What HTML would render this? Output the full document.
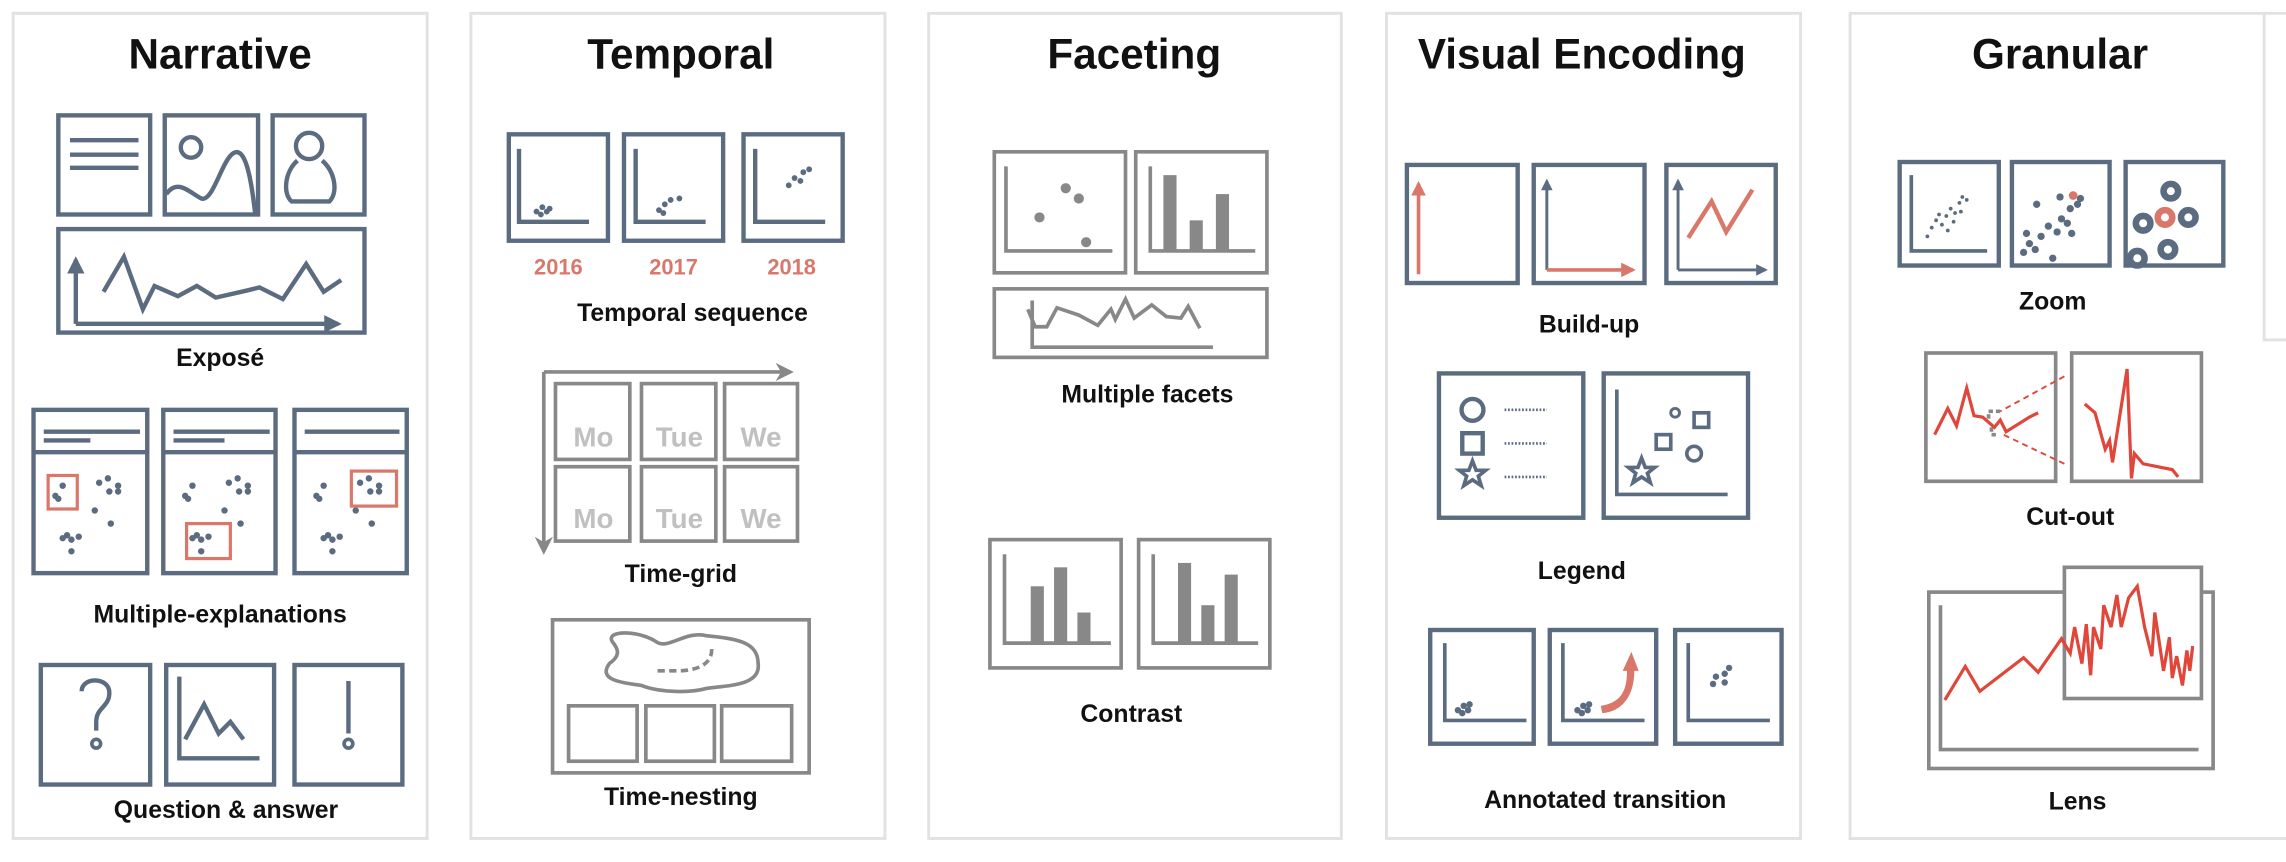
<!DOCTYPE html>
<html><head><meta charset="utf-8"><style>
html,body{margin:0;padding:0;background:#fff;}
svg{display:block;}
text{font-family:"Liberation Sans",Arial,sans-serif;font-weight:bold;fill:#111;}
</style></head><body>
<svg width="2286" height="862" viewBox="0 0 1568 591" xmlns="http://www.w3.org/2000/svg">
<defs>
<marker id="as" viewBox="0 0 10 10" refX="8" refY="5" markerWidth="4" markerHeight="4" orient="auto"><path d="M0,0 L10,5 L0,10 z" fill="#5b6b80"/></marker>
<marker id="ao" viewBox="0 0 10 10" refX="8" refY="5" markerWidth="4" markerHeight="4" orient="auto"><path d="M0,0 L10,5 L0,10 z" fill="#d9786a"/></marker>
<marker id="ag" viewBox="0 0 10 10" refX="8" refY="5" markerWidth="5" markerHeight="5" orient="auto"><path d="M0,0 L10,5 L0,10 L3,5 z" fill="#888"/></marker>
<g id="dots" fill="#5b6b80">
<circle cx="43" cy="333" r="2.2"/><circle cx="38" cy="340" r="2.2"/><circle cx="40" cy="342" r="2.2"/>
<circle cx="68" cy="331" r="2.2"/><circle cx="74" cy="328" r="2.2"/><circle cx="81" cy="333" r="2.2"/><circle cx="75" cy="337" r="2.2"/><circle cx="81" cy="337" r="2.2"/>
<circle cx="65" cy="350" r="2.2"/><circle cx="76" cy="359" r="2.2"/>
<circle cx="43" cy="369" r="2.2"/><circle cx="46" cy="367" r="2.2"/><circle cx="49" cy="370" r="2.2"/><circle cx="54" cy="368" r="2.2"/><circle cx="49" cy="378" r="2.2"/>
</g>
</defs>
<!-- panels -->
<g fill="none" stroke="#e2e2e2" stroke-width="2">
<rect x="9" y="9" width="284" height="566"/>
<rect x="323" y="9" width="284" height="566"/>
<rect x="637" y="9" width="283" height="566"/>
<rect x="951" y="9" width="284" height="566"/>
<path d="M1570,9 H1269 V575 H1570"/>
<path d="M1553,9 V233 H1570"/>
</g>
<g font-size="29" text-anchor="middle">
<text x="151" y="47">Narrative</text>
<text x="467" y="47">Temporal</text>
<text x="778" y="47">Faceting</text>
<text x="1085" y="47">Visual Encoding</text>
<text x="1413" y="47">Granular</text>
</g>
<g font-size="17" text-anchor="middle">
<text x="151" y="251">Exposé</text>
<text x="151" y="427">Multiple-explanations</text>
<text x="155" y="561">Question &amp; answer</text>
<text x="475" y="220">Temporal sequence</text>
<text x="467" y="399">Time-grid</text>
<text x="467" y="552">Time-nesting</text>
<text x="787" y="276">Multiple facets</text>
<text x="776" y="495">Contrast</text>
<text x="1090" y="228">Build-up</text>
<text x="1085" y="397">Legend</text>
<text x="1101" y="554">Annotated transition</text>
<text x="1408" y="212">Zoom</text>
<text x="1420" y="360">Cut-out</text>
<text x="1425" y="555">Lens</text>
</g>

<!-- NARRATIVE -->
<g fill="none" stroke="#5b6b80" stroke-width="3">
<rect x="40" y="79" width="63" height="68"/>
<rect x="113" y="79" width="64" height="68"/>
<rect x="187" y="79" width="63" height="68"/>
<path d="M48,96H95M48,106H95M48,115H95"/>
<circle cx="131" cy="101" r="7"/>
<path d="M114,133 C122,122 130,132 138,136 C146,139 152,110 160,105 C168,100 172,120 175,146"/>
<circle cx="212" cy="100" r="9"/>
<path d="M204,110 C195,118 194,133 200,138 H226 C232,132 230,118 221,110"/>
<rect x="40" y="157" width="210" height="71"/>
<path d="M52,222V178" marker-end="url(#as)"/>
<path d="M52,222H232" marker-end="url(#as)"/>
<path d="M71,200 L85,176 L98,212 L106,196 L122,203 L135,196 L148,204 L170,199 L178,197 L194,205 L210,181 L222,200 L234,192"/>
<rect x="23" y="281" width="78" height="112"/>
<rect x="112" y="281" width="77" height="112"/>
<rect x="202" y="281" width="77" height="112"/>
<path d="M23,310H101M112,310H189M202,310H279"/>
<path d="M30,296H96M30,302H62M119,296H185M119,302H154M209,296H274"/>
<rect x="28" y="456" width="75" height="82"/>
<rect x="114" y="456" width="74" height="82"/>
<rect x="202" y="456" width="74" height="82"/>
<path d="M123,464V520H178"/>
<path d="M127,507 L140,483 L150,503 L158,495 L167,507"/>
<path d="M56,474 C56,464 75,464 75,475 C75,485 66,485 66,495 V501"/>
<circle cx="66" cy="510" r="3" stroke-width="2.5"/>
<path d="M239,467V503"/>
<circle cx="239" cy="510" r="3" stroke-width="2.5"/>
</g>
<use href="#dots"/>
<use href="#dots" transform="translate(89,0)"/>
<use href="#dots" transform="translate(179,0)"/>
<g fill="none" stroke="#d9786a" stroke-width="2.2">
<rect x="33" y="326" width="20" height="23"/>
<rect x="128" y="359" width="30" height="24"/>
<rect x="241" y="323" width="31" height="24"/>
</g>

<!-- TEMPORAL -->
<g fill="none" stroke="#5b6b80" stroke-width="3">
<rect x="349" y="92" width="68" height="73"/>
<rect x="428" y="92" width="68" height="73"/>
<rect x="510" y="92" width="68" height="73"/>
<path d="M356,102V152H404M436,102V152H484M518,102V152H566"/>
</g>
<g fill="#5b6b80">
<circle cx="368" cy="145" r="2"/><circle cx="372" cy="142" r="2"/><circle cx="375" cy="145" r="2"/><circle cx="371" cy="147" r="2"/><circle cx="377" cy="143" r="2"/>
<circle cx="452" cy="144" r="2"/><circle cx="456" cy="140" r="2"/><circle cx="460" cy="137" r="2"/><circle cx="466" cy="136" r="2"/><circle cx="455" cy="146" r="2"/>
<circle cx="541" cy="127" r="2"/><circle cx="545" cy="122" r="2"/><circle cx="549" cy="124" r="2"/><circle cx="551" cy="118" r="2"/><circle cx="555" cy="116" r="2"/>
</g>
<g font-size="15" text-anchor="middle">
<text x="383" y="188" style="fill:#d9786a">2016</text>
<text x="462" y="188" style="fill:#d9786a">2017</text>
<text x="543" y="188" style="fill:#d9786a">2018</text>
</g>
<g fill="none" stroke="#888" stroke-width="2.5">
<path d="M373,255H542" marker-end="url(#ag)"/>
<path d="M373,255V378" marker-end="url(#ag)"/>
<rect x="381" y="263" width="51" height="52"/><rect x="440" y="263" width="51" height="52"/><rect x="497" y="263" width="50" height="52"/>
<rect x="381" y="320" width="51" height="51"/><rect x="440" y="320" width="51" height="51"/><rect x="497" y="320" width="50" height="51"/>
<rect x="379" y="425" width="176" height="105"/>
<rect x="390" y="484" width="47" height="38"/><rect x="443" y="484" width="47" height="38"/><rect x="495" y="484" width="48" height="38"/>
<path d="M420,440 C415,432 438,432 450,440 C458,446 470,432 485,436 C505,438 520,440 520,455 C522,470 500,470 485,472 C470,476 450,474 440,470 C425,468 410,466 418,455 C425,450 425,446 420,440 z"/>
<path d="M451,460 H465 C475,460 490,457 488,443" stroke-dasharray="5,3"/>
</g>
<g font-size="19" text-anchor="middle">
<text x="407" y="306" style="fill:#c0c0c0">Mo</text><text x="466" y="306" style="fill:#c0c0c0">Tue</text><text x="522" y="306" style="fill:#c0c0c0">We</text>
<text x="407" y="362" style="fill:#c0c0c0">Mo</text><text x="466" y="362" style="fill:#c0c0c0">Tue</text><text x="522" y="362" style="fill:#c0c0c0">We</text>
</g>

<!-- FACETING -->
<g fill="none" stroke="#888" stroke-width="2.5">
<rect x="682" y="104" width="90" height="83"/><rect x="779" y="104" width="90" height="83"/>
<rect x="682" y="198" width="187" height="47"/>
<path d="M690,114V172H763M789,114V172H861M708,206V238H832"/>
<path d="M705,212 L710,224 L718,224 L725,211 L740,216 L753,223 L762,212 L765,219 L772,205 L778,218 L790,209 L800,217 L810,218 L815,210 L823,225"/>
<rect x="679" y="370" width="90" height="88"/><rect x="781" y="370" width="90" height="88"/>
<path d="M689,380V441H762M791,380V441H863"/>
</g>
<g fill="#888">
<circle cx="713" cy="149" r="3.5"/><circle cx="731" cy="129" r="3.5"/><circle cx="740" cy="136" r="3.5"/><circle cx="745" cy="166" r="3.5"/>
<rect x="798" y="120" width="9" height="51"/><rect x="816" y="151" width="9" height="20"/><rect x="834" y="133" width="9" height="38"/>
<rect x="707" y="402" width="9" height="39"/><rect x="723" y="389" width="9" height="52"/><rect x="739" y="420" width="9" height="21"/>
<rect x="808" y="386" width="9" height="55"/><rect x="824" y="415" width="9" height="26"/><rect x="840" y="394" width="9" height="47"/>
</g>

<!-- VISUAL ENCODING -->
<g fill="none" stroke="#5b6b80" stroke-width="3">
<rect x="965" y="113" width="76" height="81"/><rect x="1052" y="113" width="76" height="81"/><rect x="1143" y="113" width="75" height="81"/>
<path d="M1061,185V124" stroke-width="2" marker-end="url(#as)"/>
<path d="M1151,185V124" stroke-width="2" marker-end="url(#as)"/>
<path d="M1151,185H1211" stroke-width="2" marker-end="url(#as)"/>
<rect x="987" y="256" width="99" height="99"/><rect x="1100" y="256" width="99" height="99"/>
<circle cx="1010" cy="281" r="7.5"/><rect x="1003" y="297" width="14" height="14"/>
<path d="M1010,316 L1012.5,322.5 L1019,322.5 L1014,326.5 L1016,333 L1010,329 L1004,333 L1006,326.5 L1001,322.5 L1007.5,322.5 z" stroke-width="2.5"/>
<path d="M1109,267V339H1185" stroke-width="2.5"/>
<circle cx="1149" cy="283" r="3" stroke-width="2"/><rect x="1162" y="283" width="10" height="10" stroke-width="2.5"/>
<rect x="1136" y="298" width="10" height="10" stroke-width="2.5"/><circle cx="1162" cy="311" r="5" stroke-width="2.5"/>
<path d="M1126,314 L1128.5,320.5 L1135,320.5 L1130,324.5 L1132,331 L1126,327 L1120,331 L1122,324.5 L1117,320.5 L1123.5,320.5 z" stroke-width="2.5"/>
<rect x="981" y="432" width="71" height="78"/><rect x="1063" y="432" width="73" height="78"/><rect x="1149" y="432" width="73" height="78"/>
<path d="M991,441V494H1047M1072,441V494H1128M1158,441V494H1214" stroke-width="2.5"/>
</g>
<g stroke="#5b6b80" stroke-width="1.8" stroke-dasharray="1.2,1.2">
<path d="M1032,281H1061M1032,304H1061M1032,327H1061"/>
</g>
<g fill="none" stroke="#d9786a" stroke-width="2.5">
<path d="M973,188V126" marker-end="url(#ao)"/>
<path d="M1061,185H1120" marker-end="url(#ao)"/>
<path d="M1158,163 L1174,138 L1184,159 L1202,130" stroke-width="3"/>
</g>
<path d="M1098,484 C1110,482 1116,476 1116,460 L1113,460 L1119,447 L1124,460 L1121,460 C1121,478 1112,488 1099,489 z" fill="#d9786a"/>
<g fill="#5b6b80">
<circle cx="1000" cy="487" r="2.2"/><circle cx="1004" cy="484" r="2.2"/><circle cx="1007" cy="487" r="2.2"/><circle cx="1003" cy="489" r="2.2"/><circle cx="1008" cy="483" r="2.2"/>
<circle cx="1082" cy="487" r="2.2"/><circle cx="1086" cy="484" r="2.2"/><circle cx="1089" cy="487" r="2.2"/><circle cx="1085" cy="489" r="2.2"/><circle cx="1090" cy="483" r="2.2"/>
<circle cx="1175" cy="469" r="2.2"/><circle cx="1177" cy="464" r="2.2"/><circle cx="1183" cy="462" r="2.2"/><circle cx="1186" cy="458" r="2.2"/><circle cx="1183" cy="468" r="2.2"/>
</g>

<!-- GRANULAR -->
<g fill="none" stroke="#5b6b80" stroke-width="3">
<rect x="1303" y="111" width="68" height="71"/><rect x="1380" y="111" width="67" height="71"/><rect x="1458" y="111" width="67" height="71"/>
<path d="M1311,120V172H1363" stroke-width="2.5"/>
</g>
<g fill="#5b6b80">
<circle cx="1322" cy="162" r="1.3"/><circle cx="1325" cy="156" r="1.3"/><circle cx="1328" cy="151" r="1.3"/><circle cx="1332" cy="154" r="1.3"/><circle cx="1335" cy="148" r="1.3"/><circle cx="1338" cy="143" r="1.3"/><circle cx="1341" cy="146" r="1.3"/><circle cx="1344" cy="139" r="1.3"/><circle cx="1346" cy="135" r="1.3"/><circle cx="1349" cy="137" r="1.3"/><circle cx="1336" cy="158" r="1.3"/><circle cx="1340" cy="152" r="1.3"/><circle cx="1330" cy="147" r="1.3"/><circle cx="1345" cy="145" r="1.3"/>
<circle cx="1388" cy="173" r="2.5"/><circle cx="1392" cy="167" r="2.5"/><circle cx="1396" cy="171" r="2.5"/><circle cx="1390" cy="160" r="2.5"/><circle cx="1400" cy="162" r="2.5"/><circle cx="1405" cy="155" r="2.5"/><circle cx="1411" cy="159" r="2.5"/><circle cx="1414" cy="150" r="2.5"/><circle cx="1418" cy="153" r="2.5"/><circle cx="1420" cy="143" r="2.5"/><circle cx="1425" cy="140" r="2.5"/><circle cx="1427" cy="136" r="2.5"/><circle cx="1421" cy="160" r="2.5"/><circle cx="1408" cy="177" r="2.5"/><circle cx="1397" cy="140" r="2.5"/><circle cx="1413" cy="135" r="2.5"/>
</g>
<circle cx="1422" cy="134" r="3" fill="#d9786a"/>
<g fill="none" stroke="#5b6b80" stroke-width="4.5">
<circle cx="1470" cy="153" r="5"/><circle cx="1489" cy="131" r="5"/><circle cx="1501" cy="149" r="5"/><circle cx="1487" cy="171" r="5"/><circle cx="1466" cy="177" r="5"/>
</g>
<circle cx="1485" cy="149" r="5" fill="none" stroke="#d9786a" stroke-width="4.5"/>
<g fill="none" stroke="#888" stroke-width="2.5">
<rect x="1321" y="242" width="89" height="88"/><rect x="1421" y="242" width="89" height="88"/>
<path d="M1364,287 V282 H1372 M1366,293 V298 H1371" stroke-dasharray="3,2"/>
<rect x="1323" y="406" width="195" height="121"/>
<path d="M1331,415V514H1508"/>
</g>
<rect x="1416" y="389" width="94" height="90" fill="#fff" stroke="#888" stroke-width="2.5"/>
<g fill="none" stroke="#e0463a" stroke-width="2.2">
<path d="M1416,258 L1372,282 M1416,318 L1372,297" stroke-dasharray="4,3" stroke-width="1.3"/>
<path d="M1327,298 L1336,280 L1342,292 L1349,266 L1354,285 L1360,286 L1368,293 L1372,288 L1376,296 L1392,286 L1398,283"/>
<path d="M1430,277 L1437,283 L1444,308 L1447,302 L1449,317 L1459,253 L1462,328 L1464,311 L1470,318 L1480,320 L1490,322 L1494,327"/>
<path d="M1334,480 L1348,457 L1358,474 L1388,451 L1398,461 L1414,438 L1420,448 L1423,430 L1428,455 L1431,428 L1434,463 L1436,430 L1441,445 L1443,415 L1448,430 L1452,408 L1455,430 L1460,410 L1466,402 L1471,430 L1476,450 L1478,420 L1484,460 L1488,437 L1490,465 L1493,450 L1497,470 L1500,446 L1502,460 L1504,443"/>
</g>
</svg>
</body></html>
